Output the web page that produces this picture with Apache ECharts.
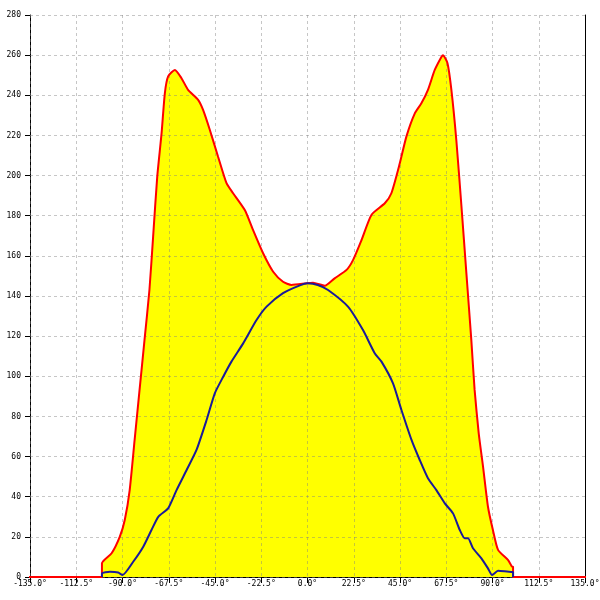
<!DOCTYPE html>
<html><head><meta charset="utf-8">
<script src="https://cdn.jsdelivr.net/npm/echarts@6/dist/echarts.min.js"></script>
<style>html,body{margin:0;padding:0;background:#fff}#c{width:600px;height:600px}</style>
</head><body><div id="c"></div>
<script>
// outer envelope (red) — [angle in degrees, value]
const redCurve = [
  [-150,0],[-100,0],[-100,6.8],[-95.3,11.8],[-91.3,20.1],[-88.9,28.4],[-86.5,43.3],[-84.1,68.3],
  [-81.7,93.2],[-79.3,118],[-76.9,143],[-75.1,169.6],[-73.1,199.5],[-71.0,221],[-69.4,241],
  [-67.8,249.4],[-64.5,252.6],[-61.3,248.5],[-58.1,242.7],[-53.2,237.7],[-50.8,232.7],
  [-47.5,222.7],[-43.5,209.4],[-39.4,196.2],[-36.2,191.2],[-30.5,182.8],[-26.5,172.9],
  [-21.6,161.3],[-16.7,152.1],[-11.9,147.1],[-7.8,145.5],[-0.5,146.3],[2.7,146.6],[8.4,145.1],
  [13.2,148.8],[19.0,153],[22.2,158],[26.3,167.9],[31.1,180.4],[37.6,186.2],[40.8,191.2],
  [44.9,206.1],[48.1,219.4],[52.2,231],[55.4,236],[58.6,242.7],[61.9,252.6],[65.2,259.2],
  [65.9,260],[68.1,256],[70.0,242.7],[72.4,217.7],[74.9,184.6],[77.3,151.3],[79.7,118],
  [81.3,93.2],[83.3,71.6],[85.4,55],[87.8,35],[90.2,23.4],[92.7,13.5],[97.5,8.5],[99.5,5.1],
  [100,5],[100,0],[150,0]
];
// inner curve (blue)
const blueCurve = [
  [-100,0],[-100,1.8],[-96.1,2.6],[-92.1,2.2],[-90.0,1],[-84.8,7.6],[-79.9,15.1],[-75.9,23.4],
  [-72.6,30],[-67.8,34.2],[-63.7,43.3],[-58.8,53.3],[-54.0,63.3],[-49.1,78.2],[-45.1,91.5],
  [-41.0,99.8],[-37.0,107.3],[-31.3,116.4],[-24.8,128],[-19.9,134.7],[-11.9,141.4],[-3.7,145.3],
  [0.1,146.3],[5.0,145.5],[10.0,143],[19.7,134.7],[27.0,123],[32.7,111.5],[36.0,107.3],
  [41.6,96.5],[45.7,83.2],[50.6,68.3],[54.6,58.3],[58.6,49.2],[62.7,43.3],[66.8,36.7],
  [70.8,31.7],[74.1,23.4],[76.5,19.3],[78.1,19.3],[80.5,14.3],[84.6,9.3],[87.8,4.3],
  [89.8,1],[92.7,3.1],[99.2,2.5],[100,2.5],[100,0]
];
const xRange = [-135, 135], xStep = 22.5;
const yRange = [0, 280], yStep = 20;

const chart = echarts.init(document.getElementById('c'), null, {renderer:'canvas'});
const font = 'DejaVu Sans Mono';
const gridLine = {show:true, lineStyle:{color:'rgba(128,128,128,0.45)', type:[3,3], width:1}};
chart.setOption({
  animation:false,
  grid:{left:30, right:15, top:15, bottom:23, outerBoundsMode:'none', containLabel:false},
  xAxis:[
    {type:'value', min:xRange[0], max:xRange[1], interval:xStep,
     axisLine:{show:true, onZero:false, lineStyle:{color:'#000', width:1}},
     axisTick:{show:true, length:6, lineStyle:{color:'#000'}},
     axisLabel:{margin:3, fontSize:8, fontFamily:font, color:'#000', hideOverlap:false,
       formatter:v=>v.toFixed(1)+'°', showMinLabel:true, showMaxLabel:true},
     splitLine:{show:false}},
    {type:'value', min:xRange[0], max:xRange[1], interval:xStep, z:3,
     axisLine:{show:false}, axisTick:{show:false}, axisLabel:{show:false},
     splitLine:gridLine}
  ],
  yAxis:[
    {type:'value', min:yRange[0], max:yRange[1], interval:yStep,
     axisLine:{show:true, onZero:false, lineStyle:{color:'#000', width:1}},
     axisTick:{show:true, length:5, lineStyle:{color:'#000'}},
     axisLabel:{margin:9, fontSize:8, fontFamily:font, color:'#000'},
     splitLine:{show:false}},
    {type:'value', min:yRange[0], max:yRange[1], interval:yStep, position:'right', z:3,
     axisLine:{show:true, onZero:false, lineStyle:{color:'#000', width:1}},
     axisTick:{show:false}, axisLabel:{show:false},
     splitLine:gridLine}
  ],
  series:[
    {type:'line', data:redCurve, xAxisIndex:0, yAxisIndex:0, z:1, symbol:'none', smooth:0.2,
     lineStyle:{width:0}, areaStyle:{color:'#ffff00', opacity:1, origin:'start'}, clip:false},
    {type:'line', data:redCurve, xAxisIndex:0, yAxisIndex:0, z:5, symbol:'none', smooth:0.2,
     lineStyle:{color:'#ff0000', width:2}, clip:false},
    {type:'line', data:blueCurve, xAxisIndex:0, yAxisIndex:0, z:6, symbol:'none', smooth:0.2,
     lineStyle:{color:'#1a1a99', width:2}}
  ]
});
</script></body></html>
